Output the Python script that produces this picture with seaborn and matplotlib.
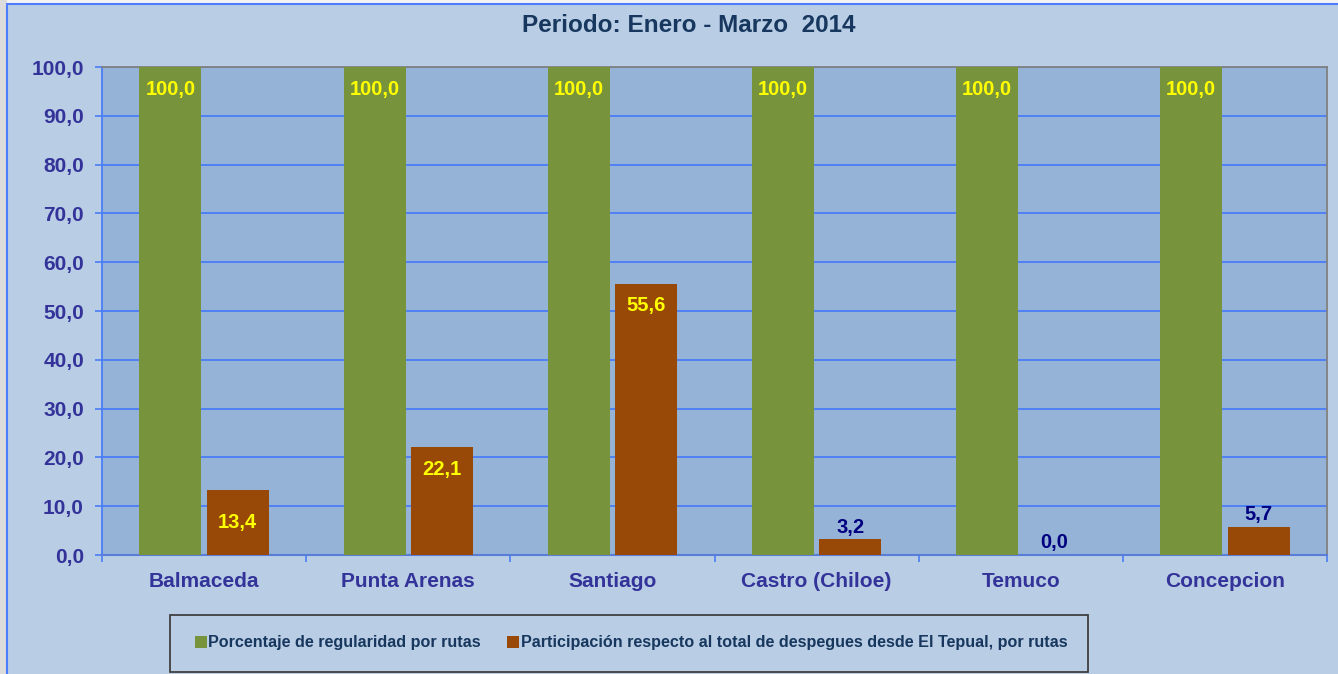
import matplotlib
matplotlib.use("Agg")
import matplotlib.pyplot as plt
from matplotlib.patches import Rectangle, Patch
import seaborn as sns
import pandas as pd

# ---- data ----
routes = ["Balmaceda", "Punta Arenas", "Santiago", "Castro (Chiloe)", "Temuco", "Concepcion"]
series_names = ["Porcentaje de regularidad por rutas",
                "Participación respecto al total de despegues desde El Tepual, por rutas"]
regularidad = [100.0, 100.0, 100.0, 100.0, 100.0, 100.0]
participacion = [13.4, 22.1, 55.6, 3.2, 0.0, 5.7]
y_ticks = [0, 10, 20, 30, 40, 50, 60, 70, 80, 90, 100]
title_text = "Periodo: Enero - Marzo  2014"

# ---- styles ----
GREEN = "#77933C"
BROWN = "#984807"
PLOT_BG = "#95B3D7"
OUTER_BG = "#B9CDE5"
GRID = "#4A7DF7"
TICK_TXT = "#333399"
TITLE_C = "#17375E"

sns.set_theme(style="white")
plt.rcParams["font.family"] = ["Liberation Sans", "DejaVu Sans"]
plt.rcParams["font.weight"] = "bold"

df = pd.DataFrame({
    "route": routes * 2,
    "series": [series_names[0]] * len(routes) + [series_names[1]] * len(routes),
    "value": regularidad + participacion,
})

W, H = 1338, 674
fig = plt.figure(figsize=(W / 100, H / 100), dpi=100)
fig.patch.set_facecolor("#F4F4F4")
# left gray strip
fig.patches.append(Rectangle((0, 0), 7 / W, 1, transform=fig.transFigure,
                             facecolor="#DCDCDC", edgecolor="none", zorder=-3))
# chart area with blue border
fig.patches.append(Rectangle((7 / W, -0.01), 1.0, 1 - 4 / H + 0.01, transform=fig.transFigure,
                             facecolor=OUTER_BG, edgecolor="#4D7CFF", linewidth=1.5, zorder=-2))

ax = fig.add_axes([102 / W, (H - 555) / H, (1327 - 102) / W, (555 - 67) / H])
ax.set_facecolor(PLOT_BG)

sns.barplot(data=df, x="route", y="value", hue="series", palette=[GREEN, BROWN],
            width=0.66, gap=0.08, ax=ax, legend=False, saturation=1, zorder=3,
            edgecolor="none", linewidth=0)

ax.set_ylim(0, 100)
ax.set_xlim(-0.5, len(routes) - 0.5)
ax.set_yticks(y_ticks)
ax.set_yticklabels([f"{t:.1f}".replace(".", ",") for t in y_ticks])
ax.yaxis.grid(True, color=GRID, linewidth=1.3, zorder=1)
ax.set_axisbelow(True)
ax.set_xlabel("")
ax.set_ylabel("")

for s in ["top", "right"]:
    ax.spines[s].set_color("#808080")
    ax.spines[s].set_linewidth(1.3)
ax.spines["left"].set_color(GRID)
ax.spines["left"].set_linewidth(1.3)
ax.spines["bottom"].set_color("#5A7ED8")
ax.spines["bottom"].set_linewidth(1.5)

ax.tick_params(axis="y", which="major", length=5, width=1.2, color=GRID, pad=8,
               labelsize=15, labelcolor=TICK_TXT, left=True)
ax.tick_params(axis="x", which="major", length=0, pad=12.5,
               labelsize=15, labelcolor=TICK_TXT)
ax.set_xticks([i - 0.5 for i in range(len(routes) + 1)], minor=True)
ax.tick_params(axis="x", which="minor", length=5, width=1.2, color=GRID, bottom=True)
for lbl in ax.get_xticklabels() + ax.get_yticklabels():
    lbl.set_fontweight("bold")

# value labels
for cont in ax.containers:
    for bar in cont:
        v = bar.get_height()
        x = bar.get_x() + bar.get_width() / 2
        txt = f"{v:.1f}".replace(".", ",")
        if v >= 20:
            ax.annotate(txt, (x, v), xytext=(0, -9), textcoords="offset points",
                        ha="center", va="top", color="#FFFF00", fontsize=14.5,
                        fontweight="bold", zorder=5)
        elif v >= 10:
            ax.annotate(txt, (x, v / 2), ha="center", va="center", color="#FFFF00",
                        fontsize=14.5, fontweight="bold", zorder=5)
        else:
            ax.annotate(txt, (x, v), xytext=(0, 2), textcoords="offset points",
                        ha="center", va="bottom", color="#000080", fontsize=14.5,
                        fontweight="bold", zorder=5)

# title
fig.text(689 / W, 1 - 25.5 / H, title_text, ha="center", va="center",
         fontsize=17.5, fontweight="bold", color=TITLE_C)

# legend frame and legend
fig.patches.append(Rectangle((170 / W, (H - 672) / H), (1088 - 170) / W, (672 - 615) / H,
                             transform=fig.transFigure, facecolor=OUTER_BG,
                             edgecolor="#404040", linewidth=1.3, zorder=-1))
handles = [Patch(facecolor=GREEN, edgecolor="none"), Patch(facecolor=BROWN, edgecolor="none")]
leg = fig.legend(handles, series_names, loc="center", bbox_to_anchor=(631 / W, (H - 643) / H),
                 ncol=2, frameon=False, prop={"size": 11.6, "weight": "bold"},
                 handlelength=0.75, handleheight=0.75, handletextpad=0.1, columnspacing=1.6)
for t in leg.get_texts():
    t.set_color(TITLE_C)

fig.savefig("out.png", dpi=100, facecolor=fig.get_facecolor())
